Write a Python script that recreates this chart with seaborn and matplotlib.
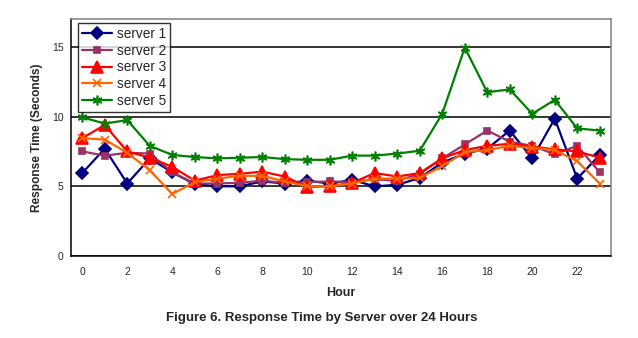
import matplotlib
matplotlib.use("Agg")
import matplotlib.pyplot as plt
import seaborn as sns
import pandas as pd
import numpy as np

hours = list(range(24))
server1 = [5.95, 7.7, 5.2, 7.0, 6.0, 5.15, 5.0, 5.0, 5.35, 5.2, 5.4, 5.2, 5.45, 5.0, 5.1, 5.6, 6.7, 7.35, 7.7, 9.0, 7.0, 9.85, 5.55, 7.25]
server2 = [7.5, 7.2, 7.4, 7.35, 6.0, 5.2, 5.2, 5.25, 5.4, 5.25, 5.3, 5.35, 5.3, 5.5, 5.4, 5.9, 7.0, 8.0, 9.0, 8.2, 7.9, 7.3, 7.9, 6.0]
server3 = [8.45, 9.4, 7.5, 7.05, 6.4, 5.4, 5.8, 5.9, 6.05, 5.7, 4.95, 5.0, 5.25, 5.95, 5.7, 5.95, 7.0, 7.6, 7.9, 8.05, 7.85, 7.65, 7.5, 7.05]
server4 = [8.45, 8.35, 7.4, 6.15, 4.45, 5.3, 5.55, 5.75, 5.75, 5.35, 5.0, 5.0, 5.2, 5.55, 5.55, 5.6, 6.45, 7.45, 7.6, 7.9, 7.75, 7.6, 6.8, 5.2]
server5 = [9.95, 9.5, 9.75, 7.9, 7.25, 7.1, 7.0, 7.05, 7.1, 6.95, 6.9, 6.9, 7.2, 7.2, 7.35, 7.55, 10.2, 14.95, 11.75, 11.95, 10.2, 11.2, 9.15, 9.0]

names = ["server 1", "server 2", "server 3", "server 4", "server 5"]
colors = ["#000080", "#993366", "#FF0000", "#FF6600", "#008000"]
markers = ["D", "s", "^", "x", (6, 2, 0)]
msizes = [6, 5, 8, 6, 7]

df = pd.DataFrame({"Hour": hours * 5,
                   "value": server1 + server2 + server3 + server4 + server5,
                   "server": sum([[n] * 24 for n in names], [])})

sns.set_style("white")
plt.rcParams['font.family'] = ['Liberation Sans', 'DejaVu Sans']

fig = plt.figure(figsize=(6.38, 3.38), dpi=100)
ax = fig.add_axes([71/638, 1 - 256/338, (611-71)/638, (256-19)/338])

for n, c, m, s in zip(names, colors, markers, msizes):
    sub = df[df["server"] == n]
    sns.lineplot(data=sub, x="Hour", y="value", ax=ax, color=c, marker=m,
                 markersize=s, linewidth=1.6, label=n,
                 markeredgecolor=c, markerfacecolor=c, markeredgewidth=1.2)

ax.set_xlim(-0.5, 23.5)
ax.set_ylim(0, 17)
ax.set_yticks([0, 5, 10, 15])
ax.set_xticks(range(0, 24, 2))
ax.set_xticks(np.arange(-0.5, 24, 1), minor=True)
ax.tick_params(axis='x', which='major', length=0, pad=8, labelsize=7.5)
ax.tick_params(axis='x', which='minor', length=3, width=1, color='black', direction='out')
ax.tick_params(axis='y', which='major', length=3, width=1, color='black', direction='out', labelsize=7.5, pad=2.5)
ax.yaxis.grid(True, color='black', linewidth=1.1)
ax.set_axisbelow(True)
for side in ['left', 'bottom']:
    ax.spines[side].set_color('black')
    ax.spines[side].set_linewidth(1.1)
for side in ['top', 'right']:
    ax.spines[side].set_color('#808080')
    ax.spines[side].set_linewidth(1.1)

ax.set_xlabel("Hour", fontsize=9, fontweight='bold', labelpad=7)
ax.set_ylabel("Response Time (Seconds)", fontsize=8.6, fontweight='bold', labelpad=6)

leg = ax.legend(loc='upper left', bbox_to_anchor=(0.008, 0.995), frameon=True, fancybox=False,
                shadow=False, fontsize=9.8, handlelength=2.2, borderpad=0.3, labelspacing=0.2,
                handletextpad=0.35, borderaxespad=0.2)
leg.get_frame().set_edgecolor('black')
leg.get_frame().set_linewidth(1.0)

fig.text(0.5 + 3/638, 1 - 318/338, "Figure 6. Response Time by Server over 24 Hours", ha='center', va='center',
         fontsize=9.5, fontweight='bold')

fig.savefig("out.png", dpi=100, facecolor='white')
